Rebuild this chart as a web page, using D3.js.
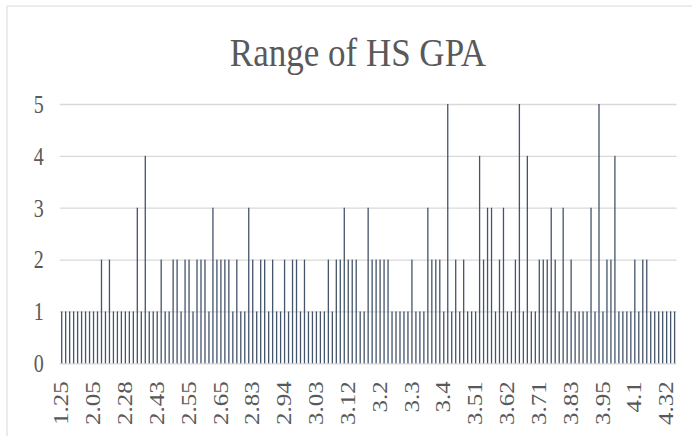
<!DOCTYPE html>
<html>
<head>
<meta charset="utf-8">
<script src="https://cdn.jsdelivr.net/npm/d3@7"></script>
<style>
    html, body { margin: 0; padding: 0; background: #fff; }
    #chart text { font-family: "Liberation Serif", "DejaVu Serif", serif; fill: #595959; }
</style>
</head>
<body>
<div id="chart"></div>
<script>
// GPA categories in the order they appear on the axis (only every 8th is labelled)
const gpaValues = [
    1.25, 1.5, 1.6, 1.7, 1.8, 1.9, 1.95, 2,
    2.05, 2.1, 2.12, 2.15, 2.18, 2.2, 2.23, 2.25,
    2.28, 2.3, 2.32, 2.34, 2.36, 2.38, 2.4, 2.42,
    2.43, 2.45, 2.46, 2.47, 2.49, 2.5, 2.52, 2.53,
    2.55, 2.57, 2.58, 2.59, 2.6, 2.61, 2.62, 2.64,
    2.65, 2.67, 2.7, 2.72, 2.75, 2.77, 2.8, 2.82,
    2.83, 2.85, 2.86, 2.87, 2.88, 2.9, 2.91, 2.93,
    2.94, 2.95, 2.96, 2.97, 2.98, 3, 3.01, 3.02,
    3.03, 3.04, 3.05, 3.06, 3.08, 3.09, 3.1, 3.11,
    3.12, 3.13, 3.14, 3.15, 3.16, 3.17, 3.18, 3.19,
    3.2, 3.21, 3.22, 3.23, 3.25, 3.26, 3.27, 3.29,
    3.3, 3.31, 3.32, 3.33, 3.34, 3.36, 3.37, 3.38,
    3.4, 3.42, 3.43, 3.45, 3.46, 3.47, 3.48, 3.5,
    3.51, 3.52, 3.53, 3.54, 3.55, 3.57, 3.58, 3.6,
    3.62, 3.63, 3.64, 3.65, 3.66, 3.67, 3.68, 3.7,
    3.71, 3.72, 3.73, 3.75, 3.76, 3.78, 3.8, 3.82,
    3.83, 3.84, 3.85, 3.87, 3.88, 3.9, 3.92, 3.93,
    3.95, 3.97, 3.98, 4, 4.02, 4.04, 4.06, 4.08,
    4.1, 4.13, 4.15, 4.18, 4.2, 4.25, 4.27, 4.3,
    4.32, 4.4, 4.5
];

// number of students at each GPA
const counts = [
    1, 1, 1, 1, 1, 1, 1, 1,
    1, 1, 2, 1, 2, 1, 1, 1,
    1, 1, 1, 3, 1, 4, 1, 1,
    1, 2, 1, 1, 2, 2, 1, 2,
    2, 1, 2, 2, 2, 1, 3, 2,
    2, 2, 2, 1, 2, 1, 1, 3,
    2, 1, 2, 2, 1, 2, 1, 1,
    2, 1, 2, 2, 1, 2, 1, 1,
    1, 1, 1, 2, 1, 2, 2, 3,
    2, 2, 2, 1, 1, 3, 2, 2,
    2, 2, 2, 1, 1, 1, 1, 1,
    2, 1, 1, 1, 3, 2, 2, 2,
    1, 5, 1, 2, 1, 2, 1, 1,
    1, 4, 2, 3, 3, 1, 2, 3,
    1, 1, 2, 5, 1, 4, 1, 1,
    2, 2, 2, 3, 2, 1, 3, 1,
    2, 1, 1, 1, 1, 3, 1, 5,
    1, 2, 2, 4, 1, 1, 1, 1,
    2, 1, 2, 2, 1, 1, 1, 1,
    1, 1, 1
];

const yTicks = [0, 1, 2, 3, 4, 5];
const labelEvery = 8;

const width = 692;
const height = 436;
const plot = { left: 59.7, right: 676.6, top: 104, bottom: 363.3 };
const stretch = 1.25; // the source picture is stretched vertically

const svg = d3.select('#chart')
    .append('svg')
    .attr('width', width)
    .attr('height', height);

// chart area border (only top and left edges are in frame)
svg.append('path')
    .attr('d', `M7,${height} V6 H${width}`)
    .attr('fill', 'none')
    .attr('stroke', '#d9d9d9')
    .attr('stroke-width', 1);

const data = gpaValues.map((g, i) => ({ gpa: String(g), count: counts[i] }));

const x = d3.scaleBand()
    .domain(data.map(d => d.gpa))
    .range([plot.left, plot.right]);

const y = d3.scaleLinear()
    .domain([0, 5])
    .range([plot.bottom, plot.top]);

// gridlines
const grid = svg.append('g')
    .attr('transform', `translate(${plot.left},0)`)
    .call(d3.axisLeft(y)
        .tickValues(yTicks)
        .tickSize(-(plot.right - plot.left))
        .tickFormat(''));
grid.select('.domain').remove();
grid.selectAll('line')
    .attr('stroke', '#d9d9d9')
    .attr('stroke-width', 1.3);

// bars
const barWidth = 1.3;
svg.append('g')
    .selectAll('rect')
    .data(data)
    .enter()
    .append('rect')
    .attr('x', d => x(d.gpa) + x.bandwidth() / 2 - barWidth / 2)
    .attr('y', d => y(d.count))
    .attr('width', barWidth)
    .attr('height', d => y(0) - y(d.count))
    .attr('fill', '#44546a');

// y axis labels
const yAxis = svg.append('g')
    .attr('transform', `translate(${plot.left},0)`)
    .call(d3.axisLeft(y).tickValues(yTicks).tickSize(0).tickFormat(d3.format('d')));
yAxis.select('.domain').remove();
yAxis.selectAll('text')
    .attr('x', 0)
    .attr('dy', null)
    .attr('text-anchor', 'end')
    .attr('dominant-baseline', 'central')
    .attr('transform', `translate(-16,0) scale(1,${stretch})`)
    .style('font-size', '20px');

// x axis labels, every 8th category, rotated
const xAxis = svg.append('g')
    .attr('transform', `translate(0,${plot.bottom})`)
    .call(d3.axisBottom(x)
        .tickValues(x.domain().filter((d, i) => i % labelEvery === 0))
        .tickSize(0));
xAxis.select('.domain').remove();
xAxis.selectAll('text')
    .attr('x', 0)
    .attr('y', 0)
    .attr('dy', null)
    .attr('text-anchor', 'end')
    .attr('dominant-baseline', 'central')
    .attr('transform', `translate(0,18) scale(1,${stretch}) rotate(-90)`)
    .style('font-size', '20px');

// title
svg.append('text')
    .attr('text-anchor', 'middle')
    .attr('transform', `translate(358,66) scale(1,1.15)`)
    .style('font-size', '35px')
    .text('Range of HS GPA');
</script>
</body>
</html>
